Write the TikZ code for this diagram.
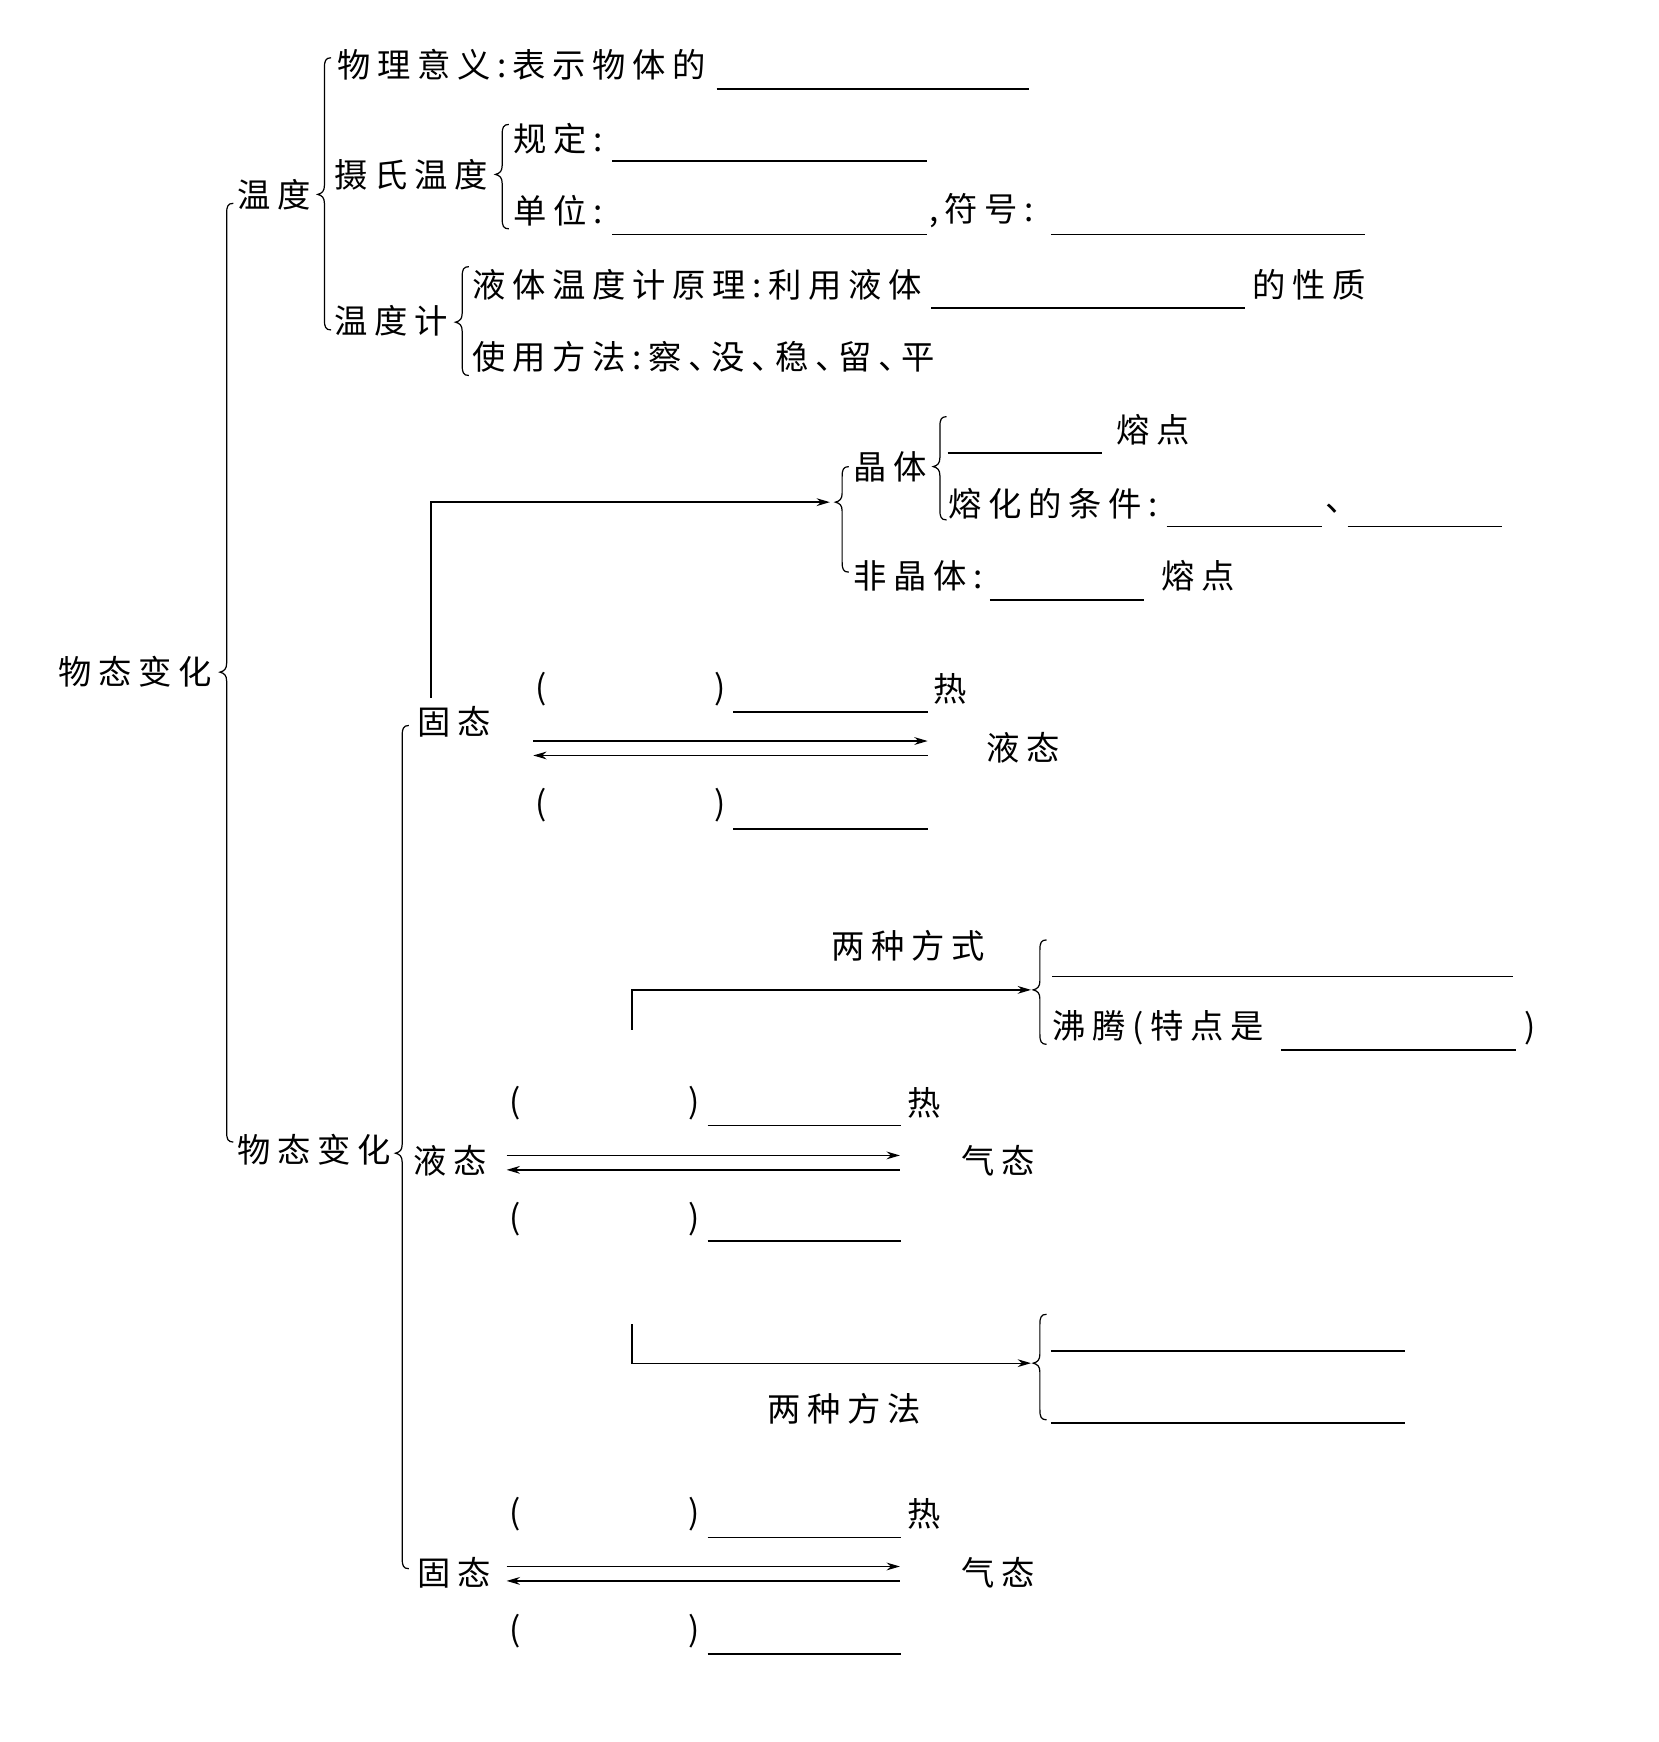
\documentclass[tikz,border=0pt]{standalone}
\usepackage{fontspec}
\newfontfamily\cjk[LetterSpace=20,RawFeature=+halt]{Noto Sans CJK SC}
\usetikzlibrary{arrows.meta,calc}
\newcommand\mybrace[4]{% x, top, tip, bottom
  \draw[brc] (#1+6,#2) .. controls (#1+1,#2) and (#1,#2+3) .. (#1,#2+9)
    -- (#1,#3-8) .. controls (#1,#3-3) and (#1-2,#3-1) .. (#1-6,#3)
    .. controls (#1-2,#3+1) and (#1,#3+3) .. (#1,#3+8)
    -- (#1,#4-9) .. controls (#1,#4-3) and (#1+1,#4) .. (#1+6,#4);}
\begin{document}
\begin{tikzpicture}[x=0.5pt,y=-0.5pt,
  txt/.style={font=\cjk\fontsize{15}{18}\selectfont, inner sep=0pt, anchor=west},
  blank/.style={line width=0.8pt},
  brc/.style={line width=0.55pt},
  arr/.style={line width=0.6pt,-{Stealth[length=6pt,width=3.5pt]}},
]
\fill[white] (0,0) rectangle (1493,1568);
\useasboundingbox (0,0) rectangle (1493,1568);

% ---------- top: temperature ----------
\node[txt] (root) at (52,605) {物态变化};
\node[txt] (wendu) at (213,175) {温度};
\node[txt] (wlyy) at (303,58) {物理意义:表示物体的};
\node[txt] (sswd) at (301,157) {摄氏温度};
\node[txt] (gd) at (462,125) {规定:};
\node[txt] (dw) at (462,190) {单位:};
\node[txt] (fh) at (836,190) {,\,符号:};
\node[txt] (wdj) at (301,289) {温度计};
\node[txt] (yl) at (425,256) {液体温度计原理:利用液体};
\node[txt] (xz) at (1127,256) {的性质};
\node[txt] (syff) at (425,321) {使用方法:察、没、稳、留、平};

\draw[blank] (645,80) -- (926,80);
\draw[blank] (551,145) -- (834,145);
\draw[blank] (551,211) -- (834,211);
\draw[blank] (946,211) -- (1229,211);
\draw[blank] (838,277) -- (1121,277);

\mybrace{204}{183}{605}{1028}
\mybrace{292}{52}{175}{297}
\mybrace{452}{112}{157}{206}
\mybrace{416}{240}{290}{338}

% ---------- second: state change ----------
\node[txt] (wtbh) at (213,1035) {物态变化};
\mybrace{362}{653}{1038}{1412}

% solid <-> liquid
\node[txt] (gt1) at (375,650) {固态};
\node[txt] (yt1) at (888,673) {液态};
\node[txt] (jt) at (768,420) {晶体};
\node[txt] (rd1) at (1005,387) {熔点};
\node[txt] (rhtj) at (853,453) {熔化的条件:};
\node[txt] (dun) at (1193,458) {、};
\node[txt] (fjt) at (768,518) {非晶体:};
\node[txt] (rd2) at (1045,518) {熔点};
\mybrace{758}{420}{452}{515}
\mybrace{846}{375}{420}{468}
\draw[blank] (853,408) -- (992,408);
\draw[blank] (1050,474) -- (1190,474);
\draw[blank] (1213,474) -- (1352,474);
\draw[blank] (891,540) -- (1030,540);

\coordinate (b1s) at (388,628);
\coordinate (brE) at (747,452);
\draw[arr] (b1s) |- (brE);

\node[txt] (p1a) at (482,620) {(};
\node[txt] (p1b) at (643,620) {)};
\node[txt] (re1) at (840,620) {热};
\node[txt] (p1c) at (482,725) {(};
\node[txt] (p1d) at (643,725) {)};
\draw[blank] (660,641) -- (835,641);
\draw[blank] (660,746) -- (835,746);
\coordinate (s1a) at (480,667); \coordinate (s1b) at (835,667);
\coordinate (s1c) at (835,680); \coordinate (s1d) at (480,680);
\draw[arr] (s1a) -- (s1b);
\draw[arr] (s1c) -- (s1d);

% liquid <-> gas
\node[txt] (lzfs) at (748,851) {两种方式};
\mybrace{936}{846}{891}{940}
\draw[blank] (947,879) -- (1362,879);
\node[txt] (ft) at (947,925) {沸腾(特点是};
\draw[blank] (1153,945) -- (1365,945);
\node[txt] (ftr) at (1372,925) {)};
\coordinate (b2s) at (569,927);
\coordinate (brG) at (928,891);
\draw[arr] (b2s) |- (brG);

\node[txt] (yt2) at (372,1045) {液态};
\node[txt] (qt1) at (865,1045) {气态};
\node[txt] (p2a) at (458,993) {(};
\node[txt] (p2b) at (619,993) {)};
\node[txt] (re2) at (816,993) {热};
\node[txt] (p2c) at (458,1097) {(};
\node[txt] (p2d) at (619,1097) {)};
\draw[blank] (637,1013) -- (811,1013);
\draw[blank] (637,1117) -- (811,1117);
\coordinate (s2a) at (456,1040); \coordinate (s2b) at (810,1040);
\coordinate (s2c) at (810,1053); \coordinate (s2d) at (456,1053);
\draw[arr] (s2a) -- (s2b);
\draw[arr] (s2c) -- (s2d);

\node[txt] (lzff) at (690,1268) {两种方法};
\mybrace{936}{1183}{1227}{1278}
\draw[blank] (946,1216) -- (1265,1216);
\draw[blank] (946,1281) -- (1265,1281);
\coordinate (b3s) at (569,1192);
\coordinate (brH) at (928,1227);
\draw[arr] (b3s) |- (brH);

% solid <-> gas
\node[txt] (gt2) at (375,1416) {固态};
\node[txt] (qt2) at (865,1416) {气态};
\node[txt] (p3a) at (458,1363) {(};
\node[txt] (p3b) at (619,1363) {)};
\node[txt] (re3) at (816,1363) {热};
\node[txt] (p3c) at (458,1468) {(};
\node[txt] (p3d) at (619,1468) {)};
\draw[blank] (637,1384) -- (811,1384);
\draw[blank] (637,1489) -- (811,1489);
\coordinate (s3a) at (456,1410); \coordinate (s3b) at (810,1410);
\coordinate (s3c) at (810,1423); \coordinate (s3d) at (456,1423);
\draw[arr] (s3a) -- (s3b);
\draw[arr] (s3c) -- (s3d);
\end{tikzpicture}
\end{document}
